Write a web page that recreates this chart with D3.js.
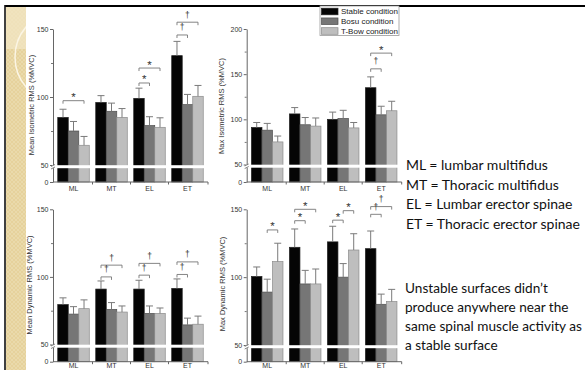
<!DOCTYPE html>
<html>
<head>
<meta charset="utf-8">
<script src="https://cdn.jsdelivr.net/npm/d3@7"></script>
<style>
  body { margin: 0; background: #fff; }
  svg { display: block; }
</style>
</head>
<body>
<svg id="slide" width="585" height="370"></svg>
<script>
const groups = ["ML", "MT", "EL", "ET"];
const conditions = ["Stable condition", "Bosu condition", "T-Bow condition"];

// bar means and upper sd per muscle group, conditions in order
const meanIsoMean = [[85, 75, 64.5], [96, 89.5, 85], [99, 79, 77.7], [130.4, 94.4, 100.5]];
const meanIsoSd = [[6, 7, 6.5], [5, 6, 6.5], [7.5, 6.5, 7], [10.5, 7.5, 8]];
const maxIsoMean = [[91, 88, 75], [106, 94, 92.5], [100, 101, 90.5], [135, 105, 109.5]];
const maxIsoSd = [[5.5, 7.5, 6.5], [7, 8, 9], [8, 9, 6], [12, 9.5, 10.5]];
const meanDynMean = [[79.5, 72.5, 76.5], [91, 76, 74], [91, 73, 73], [91.5, 64.5, 65]];
const meanDynSd = [[5, 5.5, 6.5], [6, 5, 4.5], [6.5, 5.5, 4], [7, 5, 6]];
const maxDynMean = [[100.5, 89, 111.5], [122, 95, 95], [126, 100, 120], [121, 80, 82]];
const maxDynSd = [[7, 9.5, 13.5], [13.5, 10, 11], [11.5, 10, 12], [13, 7.5, 9]];

// significance brackets: group, from bar, to bar, bracket level (data units), symbol
const meanIsoSig = [["ML", 0, 2, 97.3, "*"], ["EL", 0, 1, 110.3, "*"], ["EL", 0, 2, 121.3, "*"], ["ET", 0, 1, 145.6, "†"], ["ET", 0, 2, 155, "†"]];
const maxIsoSig = [["ET", 0, 1, 155.9, "†"], ["ET", 0, 2, 173.3, "*"]];
const meanDynSig = [["MT", 0, 1, 100, "†"], ["MT", 0, 2, 108.7, "†"], ["EL", 0, 1, 101.3, "†"], ["EL", 0, 2, 110, "†"], ["ET", 0, 1, 101.8, "†"], ["ET", 0, 2, 111.1, "†"]];
const maxDynSig = [["ML", 1, 2, 134.8, "*"], ["MT", 0, 1, 141.6, "*"], ["MT", 0, 2, 150, "*"], ["EL", 0, 1, 142, "*"], ["EL", 1, 2, 149, "*"], ["ET", 0, 1, 146.3, "†"], ["ET", 0, 2, 152, "†"]];

const ticks150 = [0, 50, 100, 150];
const ticks200 = [0, 50, 100, 150, 200];

const glossary = ["ML = lumbar multifidus", "MT = Thoracic multifidus", "EL = Lumbar erector spinae", "ET = Thoracic erector spinae"];
const summary = ["Unstable surfaces didn\u2019t", "produce anywhere near the", "same spinal muscle activity as", "a stable surface"];

const fills = ["#050505", "#767676", "#bebebe"];
const strokes = ["#222", "#4f4f4f", "#8c8c8c"];
const axisFont = "7px 'Liberation Sans', Arial, sans-serif";

const svg = d3.select("#slide");

// slide decoration: beige strip and frame
const defs = svg.append("defs");
const pat = defs.append("pattern").attr("id", "hatch")
  .attr("width", 4).attr("height", 4).attr("patternUnits", "userSpaceOnUse");
pat.append("rect").attr("width", 4).attr("height", 4).attr("fill", "#e6d29c");
pat.append("path").attr("d", "M0,4L4,0M0,0L4,4").attr("stroke", "#eddfb6").attr("stroke-width", 0.6);
defs.append("clipPath").attr("id", "stripClip")
  .append("rect").attr("x", 6).attr("y", 7).attr("width", 20).attr("height", 363);

const strip = svg.append("g");
strip.append("rect").attr("x", 6).attr("y", 7).attr("width", 20).attr("height", 363).attr("fill", "url(#hatch)");
strip.append("rect").attr("x", 6).attr("y", 7).attr("width", 20).attr("height", 42).attr("fill", "#f1e5c4").attr("opacity", 0.75);
strip.append("circle").attr("cx", 61.4).attr("cy", 57).attr("r", 46.4)
  .attr("fill", "none").attr("stroke", "#fbf5e4").attr("stroke-width", 1.5)
  .attr("clip-path", "url(#stripClip)");
svg.append("line").attr("x1", 5).attr("x2", 585).attr("y1", 6).attr("y2", 6)
  .attr("stroke", "#000").attr("stroke-width", 2.2);
svg.append("line").attr("x1", 5).attr("x2", 5).attr("y1", 5).attr("y2", 370)
  .attr("stroke", "#111").attr("stroke-width", 1.6);

function panel(opt) {
  const g = svg.append("g");
  const x = d3.scaleBand().domain(groups)
    .range([opt.left, opt.left + 155])
    .paddingInner(0.17).paddingOuter(0.125);
  const xs = d3.scaleBand().domain(d3.range(conditions.length)).range([0, x.bandwidth()]);
  const y = d3.scaleLinear().domain(opt.domain).range(opt.range);
  const xEnd = opt.left + 155;

  // bars
  const bars = groups.flatMap((grp, i) => opt.mean[i].map((m, c) => ({grp, c, m, sd: opt.sd[i][c]})));
  g.selectAll("rect.bar").data(bars).join("rect")
    .attr("class", "bar")
    .attr("x", d => x(d.grp) + xs(d.c))
    .attr("width", xs.bandwidth())
    .attr("y", d => y(d.m))
    .attr("height", d => y(0) - y(d.m))
    .attr("fill", d => fills[d.c])
    .attr("stroke", d => strokes[d.c])
    .attr("stroke-width", 0.7);

  // upper error whiskers
  const cx = d => x(d.grp) + xs(d.c) + xs.bandwidth() / 2;
  g.selectAll("path.err").data(bars).join("path")
    .attr("class", "err")
    .attr("fill", "none").attr("stroke", "#7a7a7a").attr("stroke-width", 1)
    .attr("d", d => `M${cx(d)},${y(d.m)}V${y(d.m + d.sd)}M${cx(d) - 3.5},${y(d.m + d.sd)}H${cx(d) + 3.5}`);

  // y axis
  const ya = g.append("g").attr("transform", `translate(${opt.left},0)`)
    .call(d3.axisLeft(y).tickValues(opt.ticks).tickSize(3).tickSizeOuter(0).tickPadding(1.5));
  ya.select(".domain").attr("stroke", "#666");
  ya.selectAll(".tick line").attr("stroke", "#666");
  ya.selectAll(".tick text").attr("fill", "#333").style("font", axisFont);
  const minor = d3.range(75, opt.domain[2], 50);
  g.append("g").attr("transform", `translate(${opt.left},0)`)
    .call(d3.axisLeft(y).tickValues(minor).tickSize(2).tickFormat(""))
    .call(a => a.select(".domain").remove())
    .selectAll(".tick line").attr("stroke", "#777");

  // x axis
  const xa = g.append("g").attr("transform", `translate(0,${y(0)})`)
    .call(d3.axisBottom(x).tickSize(0).tickPadding(opt.xPad));
  xa.select(".domain").attr("d", `M${opt.left},0H${xEnd}`).attr("stroke", "#666");
  xa.selectAll(".tick text").attr("fill", "#333").style("font", axisFont);
  const sep = groups.slice(1).map(grp => x(grp) - x.step() * x.paddingInner() / 2).concat([xEnd]);
  xa.selectAll("line.sep").data(sep).join("line")
    .attr("class", "sep").attr("x1", d => d).attr("x2", d => d)
    .attr("y1", 0).attr("y2", 2.5).attr("stroke", "#666");

  // axis break at 50
  const yb = y(50);
  g.append("rect").attr("x", opt.left - 1).attr("y", yb + 0.2).attr("width", xEnd - opt.left + 3).attr("height", 3)
    .attr("fill", "#fff");
  g.append("path").attr("fill", "none").attr("stroke", "#666").attr("stroke-width", 0.8)
    .attr("d", `M${opt.left - 2},${yb + 1.5}L${opt.left + 2},${yb - 0.5}M${opt.left - 2},${yb + 4}L${opt.left + 2},${yb + 2}`);

  // y title
  g.append("text")
    .attr("transform", `translate(${opt.titleX},${opt.titleY}) rotate(-90)`)
    .attr("text-anchor", "middle")
    .attr("fill", "#333")
    .style("font", "7.5px 'Liberation Sans', Arial, sans-serif")
    .text(opt.title);

  // significance brackets
  const sig = opt.sig.map(([grp, a, b, v, sym]) => ({
    x1: x(grp) + xs(a) + xs.bandwidth() / 2,
    x2: x(grp) + xs(b) + xs.bandwidth() / 2,
    yv: y(v), sym
  }));
  g.selectAll("path.sig").data(sig).join("path")
    .attr("class", "sig").attr("fill", "none").attr("stroke", "#777").attr("stroke-width", 0.9)
    .attr("d", d => `M${d.x1},${d.yv + 3}V${d.yv}H${d.x2}V${d.yv + 3}`);
  g.selectAll("text.sig").data(sig).join("text")
    .attr("class", "sig")
    .attr("x", d => (d.x1 + d.x2) / 2)
    .attr("y", d => d.sym === "*" ? d.yv + 0.5 : d.yv - 4.5)
    .attr("text-anchor", "middle")
    .attr("fill", "#333")
    .style("font", d => d.sym === "*" ? "11.5px 'Liberation Sans', Arial, sans-serif" : "8.5px 'Liberation Sans', Arial, sans-serif")
    .text(d => d.sym);
}

panel({left: 53, domain: [0, 50, 150], range: [182, 165, 29], ticks: ticks150, xPad: 4,
  mean: meanIsoMean, sd: meanIsoSd, sig: meanIsoSig,
  title: "Mean Isometric RMS (%MVC)", titleX: 33.5, titleY: 105});
panel({left: 246.7, domain: [0, 50, 200], range: [182, 164.5, 29], ticks: ticks200, xPad: 4,
  mean: maxIsoMean, sd: maxIsoSd, sig: maxIsoSig,
  title: "Max Isometric RMS (%MVC)", titleX: 224, titleY: 106});
panel({left: 53, domain: [0, 50, 150], range: [361.7, 344.5, 209.3], ticks: ticks150, xPad: 1.5,
  mean: meanDynMean, sd: meanDynSd, sig: meanDynSig,
  title: "Mean Dynamic RMS (%MVC)", titleX: 31.5, titleY: 285});
panel({left: 246.7, domain: [0, 50, 150], range: [361.7, 345, 209.3], ticks: ticks150, xPad: 1.5,
  mean: maxDynMean, sd: maxDynSd, sig: maxDynSig,
  title: "Max Dynamic RMS (%MVC)", titleX: 224.5, titleY: 284});

// legend
const leg = svg.append("g");
leg.append("rect").attr("x", 320).attr("y", 6).attr("width", 79).attr("height", 29.5)
  .attr("fill", "#fff").attr("stroke", "#999").attr("stroke-width", 0.8);
const legRow = d3.scalePoint().domain(conditions).range([11.5, 31]);
leg.selectAll("rect.sw").data(conditions).join("rect")
  .attr("class", "sw")
  .attr("x", 321.5).attr("width", 16.5)
  .attr("y", d => legRow(d) - 3.3).attr("height", 6.6)
  .attr("fill", (d, i) => fills[i]).attr("stroke", (d, i) => strokes[i]).attr("stroke-width", 0.7);
leg.selectAll("text").data(conditions).join("text")
  .attr("x", 341).attr("y", d => legRow(d) + 2.8)
  .attr("fill", "#222")
  .style("font", "8px 'Liberation Sans', Arial, sans-serif")
  .text(d => d);

// right-hand notes
const note = svg.append("g").style("font-family", "Lato, 'Open Sans', sans-serif").attr("fill", "#111");
note.selectAll("text.gl").data(glossary).join("text")
  .attr("class", "gl").attr("x", 406).attr("y", (d, i) => 170 + i * 19.5)
  .style("font-size", "14px").text(d => d);
note.selectAll("text.sm").data(summary).join("text")
  .attr("class", "sm").attr("x", 405).attr("y", (d, i) => 293.3 + i * 19)
  .style("font-size", "13.6px").text(d => d);
</script>
</body>
</html>
